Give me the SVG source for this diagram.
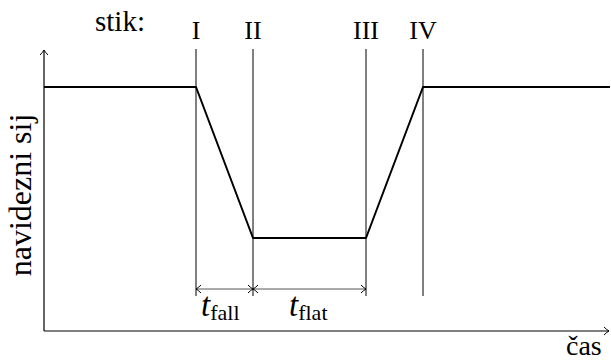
<svg xmlns="http://www.w3.org/2000/svg" width="611" height="362" viewBox="0 0 611 362">
<style>
text{font-family:"Liberation Serif","Times New Roman",serif;fill:#000}
.lbl{font-size:26px}
.big{font-size:29px}
.ax{stroke:#000;stroke-width:1.2;fill:none}
.vl{stroke:#000;stroke-width:1;fill:none}
.dim{stroke:#555;stroke-width:1;fill:none}
.sig{stroke:#000;stroke-width:2;fill:none;stroke-linejoin:round}
.t{font-size:33px;font-style:italic}
.sub{font-size:22px;font-style:normal}
</style>
<defs>
<marker id="ah" markerWidth="10" markerHeight="10" refX="8" refY="5" orient="auto" markerUnits="userSpaceOnUse">
<path d="M3,1 Q6,4 8,5 Q6,6 3,9" fill="none" stroke="#000" stroke-width="1"/>
</marker>
<marker id="ahs" markerWidth="10" markerHeight="10" refX="8" refY="5" orient="auto-start-reverse" markerUnits="userSpaceOnUse">
<path d="M3,1 Q6,4 8,5 Q6,6 3,9" fill="none" stroke="#000" stroke-width="1"/>
</marker>
</defs>
<g id="axes">
<line class="ax" x1="44" y1="331" x2="44" y2="50" marker-end="url(#ah)"/>
<line class="ax" x1="44" y1="331" x2="609" y2="331" marker-end="url(#ah)"/>
<text x="566" y="355" style="font-size:28px">čas</text>
<text transform="translate(31,195) rotate(-90)" text-anchor="middle" style="font-size:32px">navidezni sij</text>
</g>
<g id="markers">
<text class="big" x="95" y="31">stik:</text>
<line class="vl" x1="196" y1="49" x2="196" y2="296"/>
<line class="vl" x1="253" y1="49" x2="253" y2="296"/>
<line class="vl" x1="366" y1="49" x2="366" y2="296"/>
<line class="vl" x1="423" y1="49" x2="423" y2="296"/>
<text class="lbl" x="196" y="39" text-anchor="middle">I</text>
<text class="lbl" x="253" y="39" text-anchor="middle">II</text>
<text class="lbl" x="366" y="39" text-anchor="middle">III</text>
<text class="lbl" x="423" y="39" text-anchor="middle">IV</text>
</g>
<g id="signal">
<polyline class="sig" points="44,87 196,87 253,238 366,238 423,87 610,87"/>
</g>
<g id="connectors">
<line class="dim" x1="196" y1="289" x2="253" y2="289" marker-start="url(#ahs)" marker-end="url(#ahs)"/>
<line class="dim" x1="253" y1="289" x2="366" y2="289" marker-start="url(#ahs)" marker-end="url(#ahs)"/>
<text class="t" x="201" y="316">t<tspan class="sub" dy="4">fall</tspan></text>
<text class="t" x="289" y="316">t<tspan class="sub" dy="4">flat</tspan></text>
</g>
</svg>
